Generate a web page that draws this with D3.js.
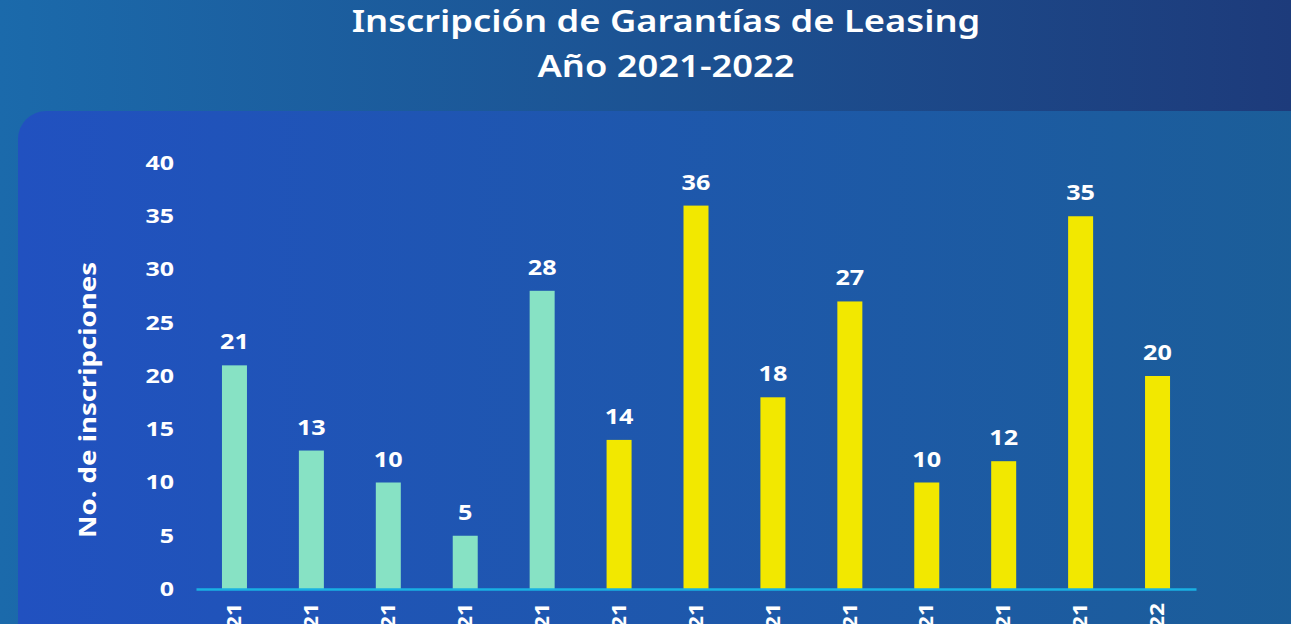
<!DOCTYPE html>
<html lang="es">
<head>
<meta charset="UTF-8">
<title>Inscripción de Garantías de Leasing</title>
<script src="https://d3js.org/d3.v7.min.js"></script>
<style>
  html, body { margin: 0; padding: 0; overflow: hidden; }
  body { width: 1291px; height: 624px; }
  text { font-family: "Noto Sans", sans-serif; font-weight: 700; fill: #fff; }
</style>
</head>
<body>
<svg width="1291" height="624"></svg>
<script>
// datos
const meses = ["Enero 2021", "Febrero 2021", "Marzo 2021", "Abril 2021", "Mayo 2021", "Junio 2021",
  "Julio 2021", "Agosto 2021", "Septiembre 2021", "Octubre 2021", "Noviembre 2021", "Diciembre 2021", "Enero 2022"];
const inscripciones = [21, 13, 10, 5, 28, 14, 36, 18, 27, 10, 12, 35, 20];
const grupos = ["A", "A", "A", "A", "A", "B", "B", "B", "B", "B", "B", "B", "B"];
const yTicks = [0, 5, 10, 15, 20, 25, 30, 35, 40];

const svg = d3.select("svg");
const defs = svg.append("defs");

// ensanchar el texto (la fuente original es mas ancha)
function ancho(sel, f) {
  sel.each(function () {
    const w = this.getComputedTextLength();
    d3.select(this).attr("textLength", w * f).attr("lengthAdjust", "spacingAndGlyphs");
  });
}

const bg = defs.append("linearGradient").attr("id", "bg");
bg.append("stop").attr("offset", "0%").attr("stop-color", "#1b6aab");
bg.append("stop").attr("offset", "100%").attr("stop-color", "#1d3b7b");

const panel = defs.append("linearGradient").attr("id", "panel");
panel.append("stop").attr("offset", "0%").attr("stop-color", "#2151c0");
panel.append("stop").attr("offset", "100%").attr("stop-color", "#1b5e98");

svg.append("rect").attr("width", 1291).attr("height", 624).attr("fill", "url(#bg)");
svg.append("rect")
  .attr("x", 18).attr("y", 111).attr("width", 1300).attr("height", 600)
  .attr("rx", 28).attr("fill", "url(#panel)");

// titulo
svg.append("text").attr("class", "tit").attr("x", 666).attr("y", 32)
  .attr("text-anchor", "middle").style("font-size", "30px").style("font-weight", 600)
  .text("Inscripción de Garantías de Leasing");
svg.append("text").attr("class", "tit").attr("x", 666).attr("y", 77)
  .attr("text-anchor", "middle").style("font-size", "30px").style("font-weight", 600)
  .text("Año 2021-2022");
ancho(svg.selectAll(".tit"), 1.21);

const x = d3.scaleBand().domain(meses).range([196, 1196]).paddingInner(0.675).paddingOuter(0.3375);
const y = d3.scaleLinear().domain([0, 40]).range([589, 163]);
const color = d3.scaleOrdinal().domain(["A", "B"]).range(["#87e2c4", "#f2e800"]);

// eje y
const yAxis = svg.append("g")
  .attr("transform", "translate(174,0)")
  .call(d3.axisLeft(y).tickValues(yTicks).tickSize(0).tickPadding(0));
yAxis.select(".domain").remove();
yAxis.selectAll("text")
  .attr("fill", "#fff")
  .style("font-size", "20px")
  .style("font-family", '"Noto Sans", sans-serif').style("font-weight", 700);
ancho(yAxis.selectAll("text"), 1.25);

svg.append("text").attr("id", "ytit")
  .attr("transform", "translate(96,400) rotate(-90)")
  .attr("text-anchor", "middle")
  .style("font-size", "23px")
  .text("No. de inscripciones");
ancho(svg.select("#ytit"), 1.2);

// barras
const datos = meses.map((m, i) => ({ mes: m, valor: inscripciones[i], grupo: grupos[i] }));

svg.selectAll(".bar").data(datos).enter().append("rect")
  .attr("class", "bar")
  .attr("x", d => x(d.mes))
  .attr("y", d => y(d.valor))
  .attr("width", x.bandwidth())
  .attr("height", d => y(0) - y(d.valor))
  .attr("fill", d => color(d.grupo));

svg.selectAll(".val").data(datos).enter().append("text")
  .attr("class", "val")
  .attr("x", d => x(d.mes) + x.bandwidth() / 2)
  .attr("y", d => y(d.valor) - 16)
  .attr("text-anchor", "middle")
  .style("font-size", "21px")
  .text(d => d.valor);
ancho(svg.selectAll(".val"), 1.2);

// eje x
const xAxis = svg.append("g")
  .attr("transform", "translate(0,589)")
  .call(d3.axisBottom(x).tickSize(0).tickPadding(0));
xAxis.select(".domain").attr("stroke", "#19b0e3").attr("stroke-width", 2.5);
xAxis.selectAll("text")
  .attr("fill", "#fff")
  .attr("transform", "rotate(-90)")
  .attr("text-anchor", "end")
  .attr("x", -14).attr("y", 0).attr("dy", "0.35em")
  .style("font-size", "19px")
  .style("font-family", '"Noto Sans", sans-serif').style("font-weight", 700);
ancho(xAxis.selectAll("text"), 1.2);
</script>
</body>
</html>
